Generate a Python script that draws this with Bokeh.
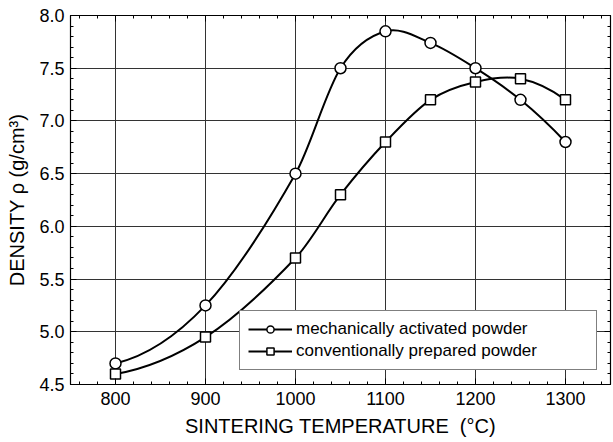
import numpy as np
from bokeh.plotting import figure
from bokeh.models import (LinearAxis, Range1d, Legend, LegendItem, FixedTicker,
                          ColumnDataSource, CustomJSTickFormatter)
from bokeh.embed import file_html
from bokeh.resources import INLINE

# ---- data ----
temperature = [800, 900, 1000, 1050, 1100, 1150, 1200, 1250, 1300]
density_mech = [4.70, 5.25, 6.50, 7.50, 7.85, 7.74, 7.50, 7.20, 6.80]
density_conv = [4.60, 4.95, 5.70, 6.30, 6.80, 7.20, 7.37, 7.40, 7.20]
x_ticks = [800, 900, 1000, 1100, 1200, 1300]
y_ticks = [4.5, 5.0, 5.5, 6.0, 6.5, 7.0, 7.5, 8.0]
series_labels = ["mechanically activated powder", "conventionally prepared powder"]

FONT = "Liberation Sans"


def bezier_segments(x, y):
    """Cubic Hermite (as Bezier) segments through the data points."""
    x = np.asarray(x, float)
    y = np.asarray(y, float)
    n = len(x)
    d = np.diff(y) / np.diff(x)
    m = np.zeros(n)
    for i in range(1, n - 1):
        m[i] = (y[i + 1] - y[i - 1]) / (x[i + 1] - x[i - 1])
    m[0] = 2 * d[0] - m[1]
    m[-1] = 2 * d[-1] - m[-2]
    h = np.diff(x)
    return dict(
        x0=x[:-1], y0=y[:-1], x1=x[1:], y1=y[1:],
        cx0=x[:-1] + h / 3, cy0=y[:-1] + m[:-1] * h / 3,
        cx1=x[1:] - h / 3, cy1=y[1:] - m[1:] * h / 3,
    )


p = figure(
    width=612, height=440,
    x_range=Range1d(750, 1350), y_range=Range1d(4.5, 8.0),
    output_backend="svg", toolbar_location=None,
    min_border_left=70, min_border_right=2, min_border_top=15, min_border_bottom=56,
)
p.background_fill_color = "white"
p.border_fill_color = "white"
p.outline_line_color = "black"
p.outline_line_width = 1.2

bottom = p.below[0]
left = p.left[0]

x_ticker = FixedTicker(ticks=x_ticks, minor_ticks=list(range(760, 1350, 20)))
y_ticker = FixedTicker(ticks=y_ticks, minor_ticks=[round(v, 1) for v in np.arange(4.5, 8.0001, 0.1)])

bottom.ticker = x_ticker
left.ticker = y_ticker
left.formatter = CustomJSTickFormatter(code="return tick.toFixed(1);")
p.xgrid.ticker = FixedTicker(ticks=x_ticks)
p.ygrid.ticker = FixedTicker(ticks=y_ticks)
for g in (p.xgrid, p.ygrid):
    g.grid_line_color = "#333333"
    g.grid_line_width = 1

blank = CustomJSTickFormatter(code="return '';")
top = LinearAxis(ticker=x_ticker, formatter=blank, major_label_standoff=0)
right = LinearAxis(ticker=y_ticker, formatter=blank, major_label_standoff=0)
p.add_layout(top, "above")
p.add_layout(right, "right")

for ax in (bottom, left, top, right):
    ax.major_tick_in = 6
    ax.major_tick_out = 0
    ax.minor_tick_in = 3
    ax.minor_tick_out = 0
    ax.axis_line_color = "black"
    ax.major_tick_line_color = "black"
    ax.minor_tick_line_color = "black"
    ax.major_label_text_font = FONT
    ax.major_label_text_font_size = "18px"
    ax.major_label_text_color = "black"
    ax.axis_label_text_font = FONT
    ax.axis_label_text_font_size = "20px"
    ax.axis_label_text_font_style = "normal"
    ax.axis_label_text_color = "black"

bottom.axis_label = "SINTERING TEMPERATURE\u00a0\u00a0(°C)"
bottom.major_label_standoff = 7
bottom.axis_label_standoff = 7
left.axis_label = "DENSITY ρ (g/cm³)"
left.major_label_standoff = 6
left.axis_label_standoff = 8

# curves
src_mech = ColumnDataSource(bezier_segments(temperature, density_mech))
src_conv = ColumnDataSource(bezier_segments(temperature, density_conv))
b1 = p.bezier(x0="x0", y0="y0", x1="x1", y1="y1", cx0="cx0", cy0="cy0", cx1="cx1", cy1="cy1",
              source=src_mech, line_color="black", line_width=2)
b2 = p.bezier(x0="x0", y0="y0", x1="x1", y1="y1", cx0="cx0", cy0="cy0", cx1="cx1", cy1="cy1",
              source=src_conv, line_color="black", line_width=2)

s1 = p.scatter(temperature, density_mech, marker="circle", size=11,
               fill_color="white", line_color="black", line_width=1.5)
s2 = p.scatter(temperature, density_conv, marker="square", size=10,
               fill_color="white", line_color="black", line_width=1.5)

legend = Legend(
    items=[LegendItem(label=series_labels[0], renderers=[b1, s1]),
           LegendItem(label=series_labels[1], renderers=[b2, s2])],
    location=(169, 14),
    glyph_width=44, glyph_height=18,
    label_text_font=FONT, label_text_font_size="17px", label_text_color="black",
    label_standoff=4, spacing=2, padding=8,
    border_line_color="black", border_line_width=1.2,
    background_fill_color="white", background_fill_alpha=1,
    label_width=292,
)
p.add_layout(legend, "center")

open("out.html", "w").write(file_html(p, INLINE))
